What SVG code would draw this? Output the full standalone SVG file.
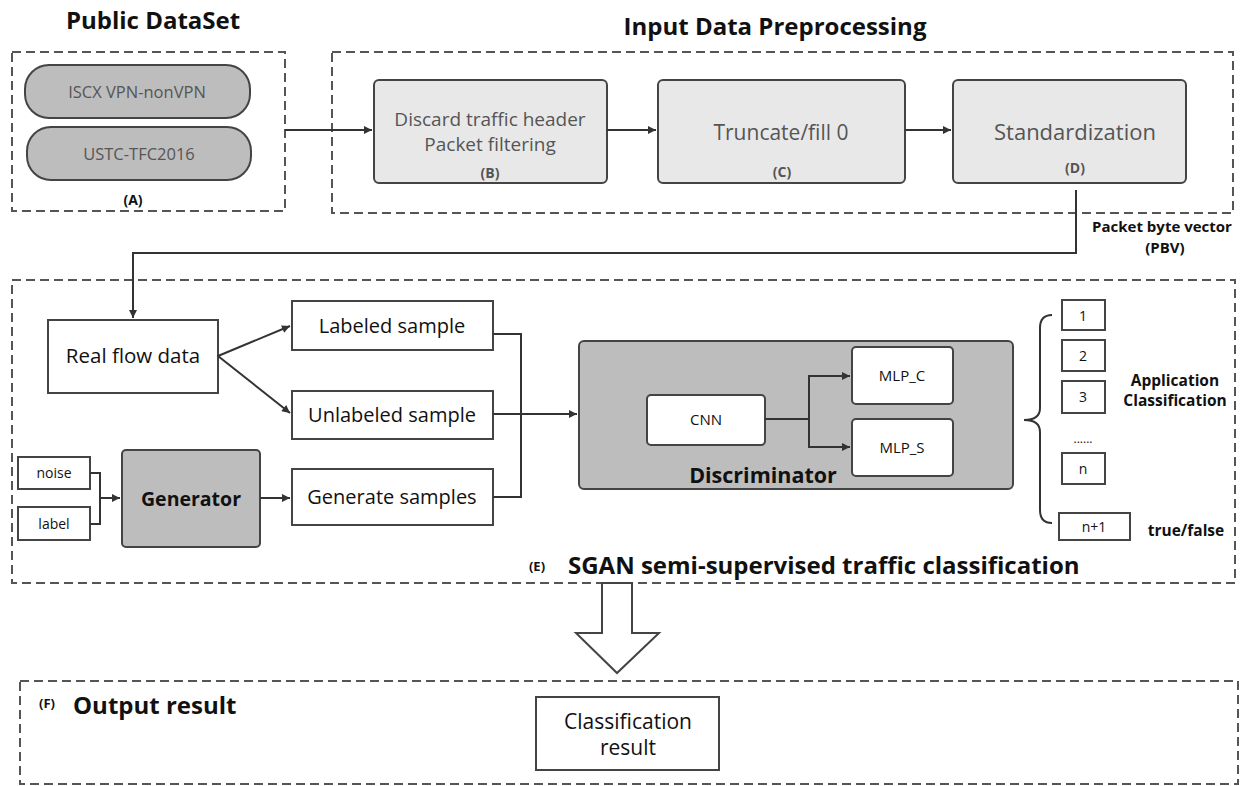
<svg xmlns="http://www.w3.org/2000/svg" width="1255" height="786" viewBox="0 0 1255 786">
<defs>
<marker id="ah" viewBox="0 0 10 10" refX="10" refY="5" markerWidth="11" markerHeight="8" markerUnits="userSpaceOnUse" orient="auto">
<path d="M0,0 L10,5 L0,10 Z" fill="#333"/>
</marker>
<style>
.dash{fill:none;stroke:#555;stroke-width:2;stroke-dasharray:9 5}
.box{fill:#fff;stroke:#444;stroke-width:2}
.lg{fill:#e8e8e8;stroke:#444;stroke-width:2}
.dg{fill:#bdbdbd;stroke:#444;stroke-width:2}
.ln{fill:none;stroke:#333;stroke-width:2}
.t{font-family:"Open Sans","Noto Sans",sans-serif;text-anchor:middle;fill:#111}
.g{fill:#555}
.b{font-weight:bold}
.title{font-family:"Open Sans","Noto Sans",sans-serif;font-weight:bold;font-size:24px;fill:#111}
</style>
</defs>
<rect width="1255" height="786" fill="#fff"/>

<g id="groupA">
<text class="title" x="153" y="29" text-anchor="middle">Public DataSet</text>
<rect class="dash" x="12" y="52" width="273" height="159"/>
<text class="t b" x="133" y="205" font-size="14">(A)</text>
</g>
<g id="iscx">
<rect class="dg" x="25" y="65" width="225" height="53" rx="24"/>
<text class="t g" x="137" y="98" font-size="16.5">ISCX VPN-nonVPN</text>
</g>
<g id="ustc">
<rect class="dg" x="27" y="127" width="224" height="53" rx="24"/>
<text class="t g" x="139" y="160" font-size="16.5">USTC-TFC2016</text>
</g>

<g id="groupPre">
<text class="title" x="775" y="35" text-anchor="middle">Input Data Preprocessing</text>
<rect class="dash" x="332" y="52" width="901" height="161"/>
</g>
<g id="nodeB">
<rect class="lg" x="374" y="80" width="233" height="103" rx="5"/>
<text class="t g" x="490" y="126" font-size="19">Discard traffic header</text>
<text class="t g" x="490" y="151" font-size="19">Packet filtering</text>
<text class="t b g" x="490" y="178" font-size="14">(B)</text>
</g>
<g id="nodeC">
<rect class="lg" x="658" y="80" width="247" height="103" rx="5"/>
<text class="t g" x="781" y="140" font-size="21">Truncate/fill 0</text>
<text class="t b g" x="782" y="177" font-size="14">(C)</text>
</g>
<g id="nodeD">
<rect class="lg" x="953" y="80" width="233" height="103" rx="5"/>
<text class="t g" x="1075" y="140" font-size="22">Standardization</text>
<text class="t b g" x="1075" y="173" font-size="14">(D)</text>
</g>
<g id="pbvLabel">
<text class="t b" x="1162" y="232" font-size="15">Packet byte vector</text>
<text class="t b" x="1165" y="253" font-size="15">(PBV)</text>
</g>

<g id="groupE">
<rect class="dash" x="12" y="280" width="1223" height="303"/>
<text class="t b" x="537" y="571" font-size="13">(E)</text>
<text class="title" x="568" y="574">SGAN semi-supervised traffic classification</text>
</g>
<g id="realflow">
<rect class="box" x="48" y="320" width="170" height="73"/>
<text class="t" x="133" y="363" font-size="20.5">Real flow data</text>
</g>
<g id="labeled">
<rect class="box" x="292" y="301" width="201" height="49"/>
<text class="t" x="392" y="333" font-size="20">Labeled sample</text>
</g>
<g id="unlabeled">
<rect class="box" x="292" y="391" width="201" height="48"/>
<text class="t" x="392" y="422" font-size="20">Unlabeled sample</text>
</g>
<g id="generated">
<rect class="box" x="292" y="469" width="201" height="56"/>
<text class="t" x="392" y="504" font-size="20">Generate samples</text>
</g>
<g id="noise">
<rect class="box" x="18" y="457" width="72" height="32"/>
<text class="t" x="54" y="478" font-size="14">noise</text>
</g>
<g id="label">
<rect class="box" x="18" y="507" width="72" height="33"/>
<text class="t" x="54" y="529" font-size="14">label</text>
</g>
<g id="generator">
<rect class="dg" x="122" y="450" width="138" height="97" rx="4"/>
<text class="t b" x="191" y="506" font-size="19.5" fill="#333">Generator</text>
</g>
<g id="discriminator">
<rect class="dg" x="579" y="341" width="434" height="148" rx="5"/>
<text class="t b" x="763" y="483" font-size="21.5" fill="#333">Discriminator</text>
</g>
<g id="cnn">
<rect class="box" x="647" y="395" width="118" height="50" rx="4"/>
<text class="t" x="706" y="425" font-size="15">CNN</text>
</g>
<g id="mlpc">
<rect class="box" x="852" y="347" width="101" height="57" rx="4"/>
<text class="t" x="902" y="381" font-size="15">MLP_C</text>
</g>
<g id="mlps">
<rect class="box" x="852" y="419" width="101" height="57" rx="4"/>
<text class="t" x="902" y="453" font-size="15">MLP_S</text>
</g>

<g id="outputs">
<path class="ln" d="M1052,315 Q1040,315 1040,328 L1040,408 Q1040,420 1024,420 Q1040,420 1040,432 L1040,510 Q1040,523 1052,523"/>
<rect class="box" x="1062" y="300" width="43" height="30"/>
<text class="t" x="1083" y="321" font-size="14">1</text>
<rect class="box" x="1062" y="340" width="43" height="31"/>
<text class="t" x="1083" y="361" font-size="14">2</text>
<rect class="box" x="1062" y="381" width="43" height="32"/>
<text class="t" x="1083" y="402" font-size="14">3</text>
<text class="t" x="1083" y="443" font-size="12">......</text>
<rect class="box" x="1062" y="453" width="43" height="31"/>
<text class="t" x="1083" y="474" font-size="14">n</text>
<rect class="box" x="1059" y="513" width="71" height="27"/>
<text class="t" x="1094" y="532" font-size="14">n+1</text>
<text class="t b" x="1175" y="386" font-size="15.5">Application</text>
<text class="t b" x="1175" y="406" font-size="15.5">Classification</text>
<text class="t b" x="1186" y="536" font-size="15.5">true/false</text>
</g>

<g id="bigArrow">
<path d="M602,583 L632,583 L632,633 L659,633 L617,673 L576,633 L602,633 Z" fill="#fff" stroke="#444" stroke-width="2"/>
</g>

<g id="groupF">
<rect class="dash" x="20" y="681" width="1218" height="103"/>
<text class="t b" x="47" y="708" font-size="13">(F)</text>
<text class="title" x="73" y="714" font-size="25">Output result</text>
</g>
<g id="result">
<rect class="box" x="536" y="697" width="183" height="73"/>
<text class="t" x="628" y="729" font-size="21">Classification</text>
<text class="t" x="628" y="755" font-size="21">result</text>
</g>

<g id="connectors">
<line class="ln" x1="285" y1="130" x2="372" y2="130" marker-end="url(#ah)"/>
<line class="ln" x1="607" y1="130" x2="656" y2="130" marker-end="url(#ah)"/>
<line class="ln" x1="905" y1="130" x2="951" y2="130" marker-end="url(#ah)"/>
<polyline class="ln" points="1076,190 1076,253 133,253 133,318" marker-end="url(#ah)"/>
<line class="ln" x1="218" y1="356" x2="290" y2="326" marker-end="url(#ah)"/>
<line class="ln" x1="218" y1="356" x2="290" y2="413" marker-end="url(#ah)"/>
<polyline class="ln" points="90,473 100,473 100,524 90,524"/>
<line class="ln" x1="100" y1="498" x2="120" y2="498" marker-end="url(#ah)"/>
<line class="ln" x1="260" y1="498" x2="290" y2="498" marker-end="url(#ah)"/>
<polyline class="ln" points="493,334 521,334 521,497 493,497"/>
<line class="ln" x1="493" y1="414" x2="577" y2="414" marker-end="url(#ah)"/>
<polyline class="ln" points="765,419 809,419 809,376 850,376" marker-end="url(#ah)"/>
<polyline class="ln" points="809,419 809,447 850,447" marker-end="url(#ah)"/>
</g>
</svg>
